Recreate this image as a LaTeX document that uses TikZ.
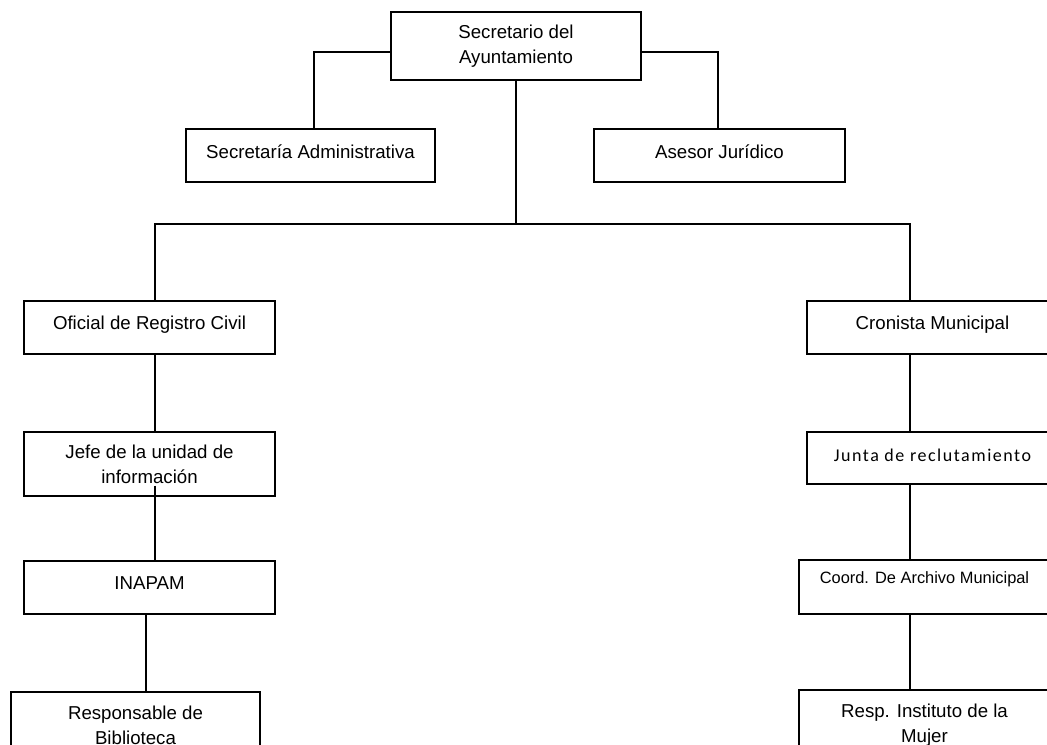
\documentclass[tikz,border=0pt]{standalone}
\usepackage{fontspec}
\setmainfont{Liberation Sans}
\newfontfamily\calib[LetterSpace=8.5]{Carlito}
\usetikzlibrary{calc}
\begin{document}
\begin{tikzpicture}[x=0.75pt,y=-0.75pt,
  box/.style={draw, line width=1.1pt, inner sep=0pt, align=center,
    font=\fontsize{14pt}{18.75pt}\selectfont},
  wh/.style 2 args={minimum width=#1*0.75pt, minimum height=#2*0.75pt},
  one/.style={text height=10pt, text depth=#1},
  conn/.style={line width=1.1pt}]
\clip (0,0) rectangle (1047,744);
\fill[white] (0,0) rectangle (1047,744);
% boxes
\node[box, wh={250}{68}] (top) at (516,46) {Secretario del\\Ayuntamiento};
\node[box, wh={249}{53}, one=5.2pt] (adm) at (310.5,155.5) {Secretaría Administrativa};
\node[box, wh={251}{53}, one=5.2pt] (ase) at (719.5,155.5) {Asesor Jurídico};
\node[box, wh={251}{53}, one=6.75pt] (ofi) at (149.5,327.5) {Oficial de Registro Civil};
\node[box, wh={251}{64}] (jef) at (149.5,464) {Jefe de la unidad de\\información};
\node[box, wh={251}{53}, one=6.75pt] (ina) at (149.5,587.5) {INAPAM};
\node[box, wh={249}{66}] (res) at (135.5,725) {Responsable de\\Biblioteca};
\node[box, wh={251}{53}, one=6.75pt] (cro) at (932.5,327.5) {Cronista Municipal};
\node[box, wh={251}{52}, one=4.5pt, font=\calib\fontsize{13.5pt}{16pt}\selectfont] (jun) at (932.5,458) {Junta de reclutamiento};
\node[box, wh={251}{54}, one=15pt, font=\fontsize{12.3pt}{15pt}\selectfont] (coo) at (924.5,587) {Coord. De Archivo Municipal};
\node[box, wh={251}{70}] (mu) at (924.5,725) {Resp. Instituto de la\\Mujer};
% connectors
\coordinate (bus) at (516,224);
\draw[conn] ($(top.west)+(0,6)$) -| ($(adm.north)+(3.5,0)$);
\draw[conn] ($(top.east)+(0,6)$) -| ($(ase.north)+(-1.5,0)$);
\draw[conn] (top.south) -- (bus);
\draw[conn] ($(ofi.north)+(5.5,0)$) |- (bus) -| ($(cro.north)+(-22.5,0)$);
\draw[conn] ($(ofi.south)+(5.5,0)$) -- ($(jef.north)+(5.5,0)$);
\draw[conn] ($(jef.south)+(5.5,-11)$) -- ($(ina.north)+(5.5,0)$);
\draw[conn] ($(ina.south)+(-3.5,0)$) -- ($(res.north)+(10.5,0)$);
\draw[conn] ($(cro.south)+(-22.5,0)$) -- ($(jun.north)+(-22.5,0)$);
\draw[conn] ($(jun.south)+(-22.5,0)$) -- ($(coo.north)+(-14.5,0)$);
\draw[conn] ($(coo.south)+(-14.5,0)$) -- ($(mu.north)+(-14.5,0)$);
\end{tikzpicture}
\end{document}
